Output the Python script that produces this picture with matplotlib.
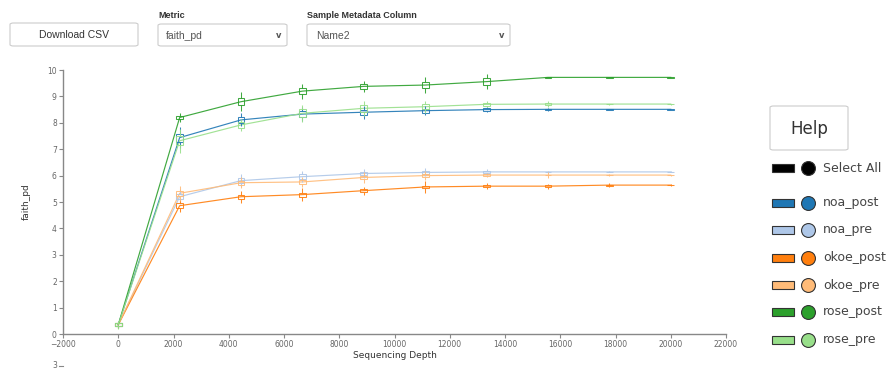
import numpy as np
import matplotlib
matplotlib.use("Agg")
import matplotlib.pyplot as plt
from matplotlib.patches import FancyBboxPatch, Rectangle

# Rarefaction depths
depths = [1, 2223, 4445, 6667, 8889, 11112, 13334, 15556, 17778, 20000]

# medians / box (iqr) / whisker half-length per group
noa_post = [0.35, 7.44, 8.11, 8.33, 8.40, 8.46, 8.50, 8.51, 8.51, 8.51]
noa_post_iqr = [0.10, 0.30, 0.20, 0.25, 0.20, 0.15, 0.10, 0.05, 0.02, 0.02]
noa_post_wsk = [0.12, 0.40, 0.25, 0.25, 0.25, 0.18, 0.10, 0.06, 0.03, 0.02]

noa_pre = [0.35, 5.20, 5.81, 5.96, 6.08, 6.12, 6.14, 6.14, 6.14, 6.14]
noa_pre_iqr = [0.10, 0.20, 0.20, 0.20, 0.15, 0.12, 0.10, 0.03, 0.02, 0.02]
noa_pre_wsk = [0.12, 0.28, 0.25, 0.22, 0.18, 0.15, 0.12, 0.05, 0.02, 0.02]

okoe_post = [0.35, 4.86, 5.20, 5.28, 5.43, 5.57, 5.60, 5.60, 5.64, 5.64]
okoe_post_iqr = [0.10, 0.20, 0.15, 0.15, 0.10, 0.10, 0.10, 0.08, 0.03, 0.02]
okoe_post_wsk = [0.12, 0.22, 0.22, 0.26, 0.15, 0.22, 0.12, 0.10, 0.08, 0.03]

okoe_pre = [0.35, 5.33, 5.73, 5.76, 5.93, 6.00, 6.02, 6.02, 6.02, 6.02]
okoe_pre_iqr = [0.10, 0.20, 0.15, 0.15, 0.12, 0.10, 0.05, 0.03, 0.02, 0.02]
okoe_pre_wsk = [0.12, 0.28, 0.20, 0.20, 0.22, 0.18, 0.08, 0.10, 0.05, 0.02]

rose_post = [0.35, 8.20, 8.80, 9.20, 9.38, 9.43, 9.56, 9.72, 9.72, 9.72]
rose_post_iqr = [0.10, 0.12, 0.25, 0.20, 0.20, 0.20, 0.25, 0.01, 0.01, 0.01]
rose_post_wsk = [0.12, 0.18, 0.35, 0.28, 0.22, 0.30, 0.28, 0.02, 0.02, 0.02]

rose_pre = [0.35, 7.32, 7.92, 8.36, 8.55, 8.61, 8.70, 8.71, 8.71, 8.71]
rose_pre_iqr = [0.12, 0.35, 0.20, 0.30, 0.25, 0.20, 0.10, 0.10, 0.02, 0.02]
rose_pre_wsk = [0.15, 0.45, 0.22, 0.32, 0.28, 0.22, 0.12, 0.12, 0.02, 0.02]

groups = ["noa_post", "noa_pre", "okoe_post", "okoe_pre", "rose_post", "rose_pre"]
colors = ["#1f77b4", "#aec7e8", "#ff7f0e", "#ffbb78", "#2ca02c", "#98df8a"]
series = [
    (noa_post, noa_post_iqr, noa_post_wsk),
    (noa_pre, noa_pre_iqr, noa_pre_wsk),
    (okoe_post, okoe_post_iqr, okoe_post_wsk),
    (okoe_pre, okoe_pre_iqr, okoe_pre_wsk),
    (rose_post, rose_post_iqr, rose_post_wsk),
    (rose_pre, rose_pre_iqr, rose_pre_wsk),
]

W, H = 896, 370
fig = plt.figure(figsize=(W / 100, H / 100), dpi=100)

def fx(x):
    return x / W

def fy(y):
    return 1 - y / H

ax = fig.add_axes([fx(63), fy(334), fx(726) - fx(63), fy(70) - fy(334)])

x = np.array(depths)
for (med, iqr, wsk), c in zip(series, colors):
    med = np.array(med); iqr = np.array(iqr); wsk = np.array(wsk)
    ax.plot(x, med, color=c, lw=0.85, alpha=0.9, zorder=3)
    ax.bar(x, iqr, bottom=med - iqr / 2, width=250, fill=False,
           edgecolor=c, lw=0.75, alpha=0.9, zorder=4)
    ax.vlines(x, med + iqr / 2, med + wsk, color=c, lw=0.75, alpha=0.9, zorder=4)
    ax.vlines(x, med - wsk, med - iqr / 2, color=c, lw=0.75, alpha=0.9, zorder=4)

ax.set_xlim(-2000, 22000)
ax.set_ylim(0, 10)
ax.set_xticks(range(-2000, 22001, 2000))
ax.set_yticks(range(0, 11))
for s in ["top", "right"]:
    ax.spines[s].set_visible(False)
for s in ["left", "bottom"]:
    ax.spines[s].set_color("#888888")
    ax.spines[s].set_linewidth(1.0)
ax.tick_params(colors="#888888", labelcolor="#666666", labelsize=5.5,
               length=3, width=0.8, pad=1.5)
ax.set_xlabel("Sequencing Depth", fontsize=6.5, color="#333333", labelpad=1)
ax.set_ylabel("faith_pd", fontsize=6.5, color="#333333", labelpad=12)

# next plot peeking at bottom
fig.text(fx(57), fy(366), "3", fontsize=5.5, color="#666666", ha="right", va="center")
fig.add_artist(plt.Line2D([fx(59), fx(63)], [fy(366), fy(366)], color="#888888", lw=0.8))

ui = "Liberation Sans"

def box(x0, y0, x1, y1):
    p = FancyBboxPatch((fx(x0), fy(y1)), fx(x1) - fx(x0), fy(y0) - fy(y1),
                       boxstyle="round,pad=0,rounding_size=0.004",
                       transform=fig.transFigure, facecolor="white",
                       edgecolor="#cccccc", lw=0.8)
    fig.add_artist(p)

# Download button
box(10, 23, 138, 46)
fig.text(fx(74), fy(35), "Download CSV", fontsize=7.5, family=ui, color="#333333",
         ha="center", va="center")

# Metric select
fig.text(fx(158), fy(15), "Metric", fontsize=6.5, family=ui, weight="bold",
         color="#333333", va="center")
box(158, 24, 287, 46)
fig.text(fx(166), fy(36), "faith_pd", fontsize=7.5, family=ui, color="#555555", va="center")
fig.text(fx(279), fy(35), "v", fontsize=6, family="DejaVu Sans", weight="bold",
         color="#555555", ha="center", va="center")

# Sample metadata select
fig.text(fx(307), fy(15), "Sample Metadata Column", fontsize=6.5, family=ui,
         weight="bold", color="#333333", va="center")
box(307, 24, 510, 46)
fig.text(fx(316), fy(36), "Name2", fontsize=7.5, family=ui, color="#555555", va="center")
fig.text(fx(502), fy(35), "v", fontsize=6, family="DejaVu Sans", weight="bold",
         color="#555555", ha="center", va="center")

# Help button
box(770, 106, 848, 150)
fig.text(fx(809), fy(129), "Help", fontsize=12, family="DejaVu Sans", color="#333333",
         ha="center", va="center")

# Legend
leg_labels = ["Select All"] + groups
leg_colors = ["#000000"] + colors
leg_y = [168, 203, 230, 258, 285, 312, 340]
for lab, c, yy in zip(leg_labels, leg_colors, leg_y):
    fig.add_artist(Rectangle((fx(772), fy(yy + 4)), fx(22), fy(0) - fy(8),
                             transform=fig.transFigure, facecolor=c,
                             edgecolor="#333333", lw=0.8))
    fig.add_artist(plt.Line2D([fx(808)], [fy(yy)], marker="o", markersize=10,
                              markerfacecolor=c, markeredgecolor="#333333",
                              markeredgewidth=0.8, transform=fig.transFigure))
    fig.text(fx(823), fy(yy), lab, fontsize=9, family="DejaVu Sans", color="#444444",
             va="center")

fig.savefig("out.png", dpi=100)
